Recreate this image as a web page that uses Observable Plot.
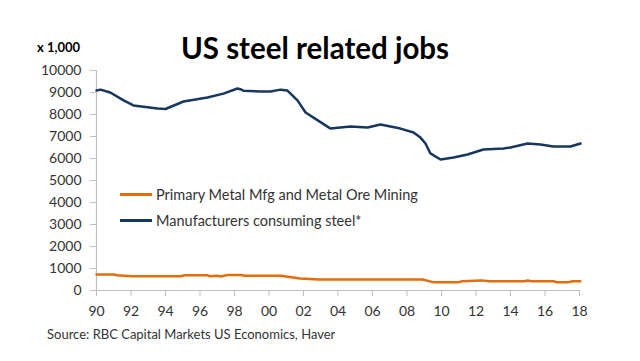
<!DOCTYPE html>
<html>
<head>
<meta charset="utf-8">
<script src="https://cdn.jsdelivr.net/npm/d3@7"></script>
<script src="https://cdn.jsdelivr.net/npm/@observablehq/plot@0.6"></script>
<style>
  html, body { margin: 0; padding: 0; background: #fff; }
  #wrap { position: relative; width: 640px; height: 361px; overflow: hidden; font-family: Lato, "Open Sans", sans-serif; }
  #chart { position: absolute; left: 0; top: 0; }
  .title { position: absolute; left: 0; width: 630px; top: 30px; text-align: center; font-size: 29.5px; font-weight: bold; color: #000; }
  .unit { position: absolute; left: 37px; top: 39px; font-size: 13px; font-weight: bold; color: #000; }
  .source { position: absolute; left: 47px; top: 326px; font-size: 13px; color: #333; }
  .legend { position: absolute; left: 120px; font-size: 14.5px; color: #333; display: flex; align-items: center; }
  .legend span.sw { display: inline-block; width: 32px; height: 3px; margin-right: 4px; }
</style>
</head>
<body>
<div id="wrap">
  <div id="chart"></div>
  <div class="unit">x 1,000</div>
  <div class="title">US steel related jobs</div>
  <div class="legend" style="top:186px"><span class="sw" style="background:#E46C0A"></span>Primary Metal Mfg and Metal Ore Mining</div>
  <div class="legend" style="top:212px"><span class="sw" style="background:#17375E"></span>Manufacturers consuming steel*</div>
  <div class="source">Source: RBC Capital Markets US Economics, Haver</div>
</div>
<script>
// Manufacturers consuming steel* (thousands)
const consumingYears = [1990.0, 1990.23, 1990.8, 1991.57, 1992.14, 1993.54, 1994.0, 1995.04, 1996.43, 1997.36, 1998.17, 1998.35, 1998.52, 1999.5, 2000.09, 2000.67, 2001.07, 2001.65, 2002.12, 2002.58, 2003.57, 2004.72, 2005.71, 2006.46, 2007.62, 2008.38, 2008.78, 2009.07, 2009.36, 2009.94, 2010.7, 2011.51, 2012.43, 2013.59, 2014.0, 2014.99, 2015.74, 2016.49, 2017.48, 2018.06];
const consumingValues = [9090, 9130, 9000, 8640, 8410, 8270, 8250, 8590, 8770, 8950, 9180, 9150, 9080, 9045, 9045, 9130, 9090, 8640, 8090, 7860, 7360, 7450, 7410, 7545, 7360, 7180, 6950, 6680, 6230, 5955, 6045, 6180, 6410, 6450, 6500, 6680, 6640, 6545, 6545, 6680];

// Primary Metal Mfg and Metal Ore Mining (thousands)
const primaryYears = [1990.0, 1991.0, 1991.2, 1992.1, 1994.9, 1995.1, 1996.4, 1996.6, 1997.0, 1997.2, 1997.6, 1998.4, 1998.6, 2000.7, 2001.1, 2001.8, 2002.9, 2008.9, 2009.5, 2011.0, 2011.2, 2012.3, 2012.8, 2014.8, 2015.0, 2015.2, 2016.5, 2016.7, 2017.3, 2017.6, 2018.05];
const primaryValues = [730, 730, 690, 650, 650, 690, 690, 650, 670, 640, 700, 700, 670, 670, 630, 545, 500, 500, 380, 380, 420, 460, 420, 420, 450, 420, 420, 370, 370, 420, 420];

const xTicks = [1990, 1992, 1994, 1996, 1998, 2000, 2002, 2004, 2006, 2008, 2010, 2012, 2014, 2016, 2018];
const xTickLabels = ["90", "92", "94", "96", "98", "00", "02", "04", "06", "08", "10", "12", "14", "16", "18"];
const yTicks = [0, 1000, 2000, 3000, 4000, 5000, 6000, 7000, 8000, 9000, 10000];

const consuming = consumingYears.map((x, i) => ({x, y: consumingValues[i]}));
const primary = primaryYears.map((x, i) => ({x, y: primaryValues[i]}));

const chart = Plot.plot({
  width: 640,
  height: 361,
  marginTop: 70,
  marginBottom: 71,
  marginLeft: 96,
  marginRight: 61,
  style: { fontFamily: "Lato, 'Open Sans', sans-serif", fontSize: "14px", background: "transparent", color: "#333" },
  x: { domain: [1990, 2018] },
  y: { domain: [0, 10000] },
  marks: [
    Plot.axisY({ ticks: yTicks, tickSize: 6, tickPadding: 9, stroke: "#bfbfbf", fill: "#333", label: null, tickFormat: d => String(d) }),
    Plot.axisX({ ticks: xTicks, tickSize: 6, tickPadding: 10, stroke: "#bfbfbf", fill: "#333", label: null, tickFormat: d => xTickLabels[xTicks.indexOf(d)] }),
    Plot.ruleX([1990], { stroke: "#bfbfbf", strokeWidth: 1.2 }),
    Plot.ruleY([0], { stroke: "#bfbfbf", strokeWidth: 1.2 }),
    Plot.line(primary, { x: "x", y: "y", stroke: "#E46C0A", strokeWidth: 2.5, curve: "linear" }),
    Plot.line(consuming, { x: "x", y: "y", stroke: "#17375E", strokeWidth: 2.5, curve: "linear" })
  ]
});
document.getElementById("chart").appendChild(chart);
</script>
</body>
</html>
